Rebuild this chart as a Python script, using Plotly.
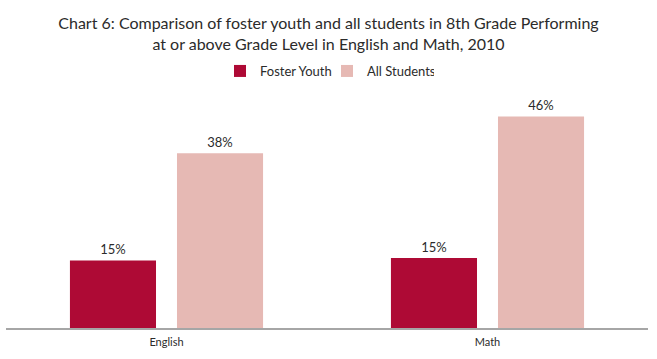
import plotly.graph_objects as go

categories = ["English", "Math"]
foster_youth = [14.7, 15.2]
all_students = [38, 46]

FONT = "Lato"
TXT = "#2b2b2b"
fig = go.Figure()
fig.add_trace(go.Bar(
    name="Foster Youth", x=categories, y=foster_youth,
    marker=dict(color="#AE0A35", line=dict(width=0)),
    text=[f"{round(v)}%" for v in foster_youth], textposition="outside",
    textfont=dict(size=13, color=TXT, family=FONT), cliponaxis=False,
))
fig.add_trace(go.Bar(
    name="All Students", x=categories, y=all_students,
    marker=dict(color="#E6B9B4", line=dict(width=0)),
    text=[f"{round(v)}%" for v in all_students], textposition="outside",
    textfont=dict(size=13, color=TXT, family=FONT), cliponaxis=False,
))

fig.update_layout(
    width=657, height=359,
    margin=dict(l=6, r=9, t=98, b=31),
    paper_bgcolor="white", plot_bgcolor="white",
    font=dict(family=FONT, color=TXT),
    title=dict(
        text="Chart 6: Comparison of foster youth and all students in 8th Grade Performing<br>at or above Grade Level in English and Math, 2010",
        x=0.5, xanchor="center", y=1 - 29/359, yanchor="middle", yref="container",
        font=dict(size=16, family=FONT, color=TXT),
    ),
    legend=dict(
        orientation="h", x=0.5, xanchor="center", y=1 - 71/359, yanchor="middle",
        yref="container", font=dict(size=13, family=FONT, color=TXT),
        itemwidth=30, traceorder="normal", entrywidth=62, entrywidthmode="pixels",
    ),
    barmode="group", bargap=0.333, bargroupgap=0.196,
    showlegend=True,
)
fig.update_xaxes(
    showline=True, linecolor="#A6A6A6", linewidth=2, ticks="",
    ticklabelstandoff=3,
    tickfont=dict(size=11, family=FONT, color=TXT),
)
fig.update_yaxes(range=[0, 50], visible=False, showgrid=False)

fig.write_html(
    "out.html",
    config={"displayModeBar": False},
    post_script="document.body.style.margin='0px';document.body.style.padding='0px';",
)
